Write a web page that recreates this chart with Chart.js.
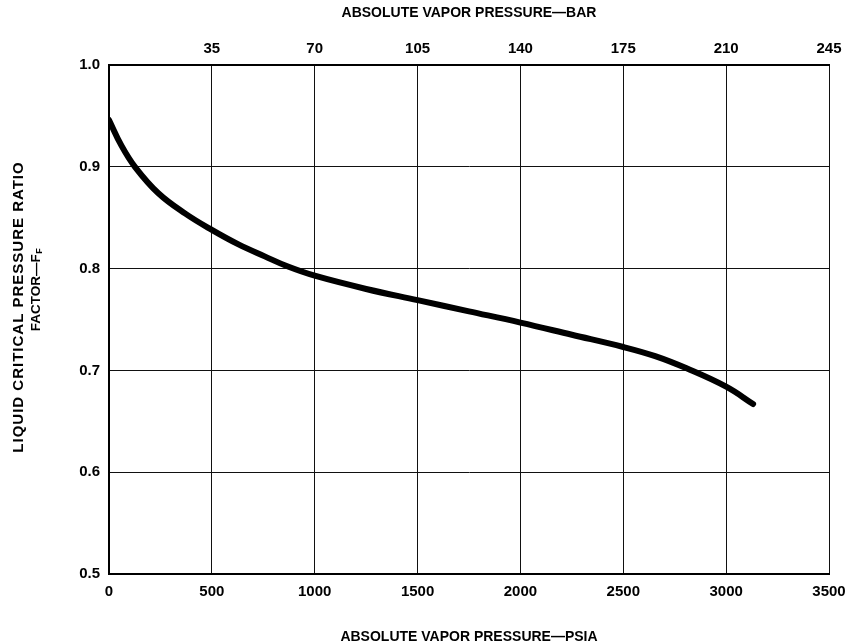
<!DOCTYPE html>
<html>
<head>
<meta charset="utf-8">
<script src="https://cdn.jsdelivr.net/npm/chart.js@4.4.1/dist/chart.umd.min.js"></script>
<style>
  html, body { margin: 0; padding: 0; background: #fff; }
  #wrap { width: 848px; height: 644px; }
</style>
</head>
<body>
<div id="wrap"><canvas id="chart"></canvas></div>
<script>
const psia = [0, 60, 126, 240, 371, 500, 627, 757, 870, 1000, 1250, 1500, 1750, 2000, 2250, 2500, 2655, 2808, 3000, 3131];
const factorFF = [0.946, 0.921, 0.900, 0.874, 0.854, 0.838, 0.824, 0.812, 0.802, 0.793, 0.780, 0.769, 0.758, 0.747, 0.735, 0.723, 0.714, 0.702, 0.684, 0.667];

const barTicks = [0, 35, 70, 105, 140, 175, 210, 245];
const psiaTicks = [0, 500, 1000, 1500, 2000, 2500, 3000, 3500];
const ratioTicks = [0.5, 0.6, 0.7, 0.8, 0.9, 1.0];

const FAM = "'Liberation Sans', Arial, sans-serif";
const tickFont = { family: FAM, size: 15, weight: "bold" };
const titleFont = { family: FAM, size: 14, weight: "bold" };

// y title has a subscript, so draw it by hand
const yTitle = {
  id: "yTitle",
  afterDraw(chart) {
    const ctx = chart.ctx;
    ctx.save();
    ctx.fillStyle = "#000";
    ctx.textBaseline = "middle";

    ctx.save();
    ctx.translate(19, 307);
    ctx.rotate(-Math.PI / 2);
    ctx.textAlign = "center";
    ctx.font = "bold 15px " + FAM;
    ctx.letterSpacing = "1px";
    ctx.fillText("LIQUID CRITICAL PRESSURE RATIO", 0, 0);
    ctx.letterSpacing = "0px";
    ctx.restore();

    ctx.save();
    ctx.translate(36, 290);
    ctx.rotate(-Math.PI / 2);
    const main = "FACTOR\u2014F";
    ctx.font = "bold 13.5px " + FAM;
    const w1 = ctx.measureText(main).width;
    ctx.font = "bold 9px " + FAM;
    const w2 = ctx.measureText("F").width;
    const x0 = -(w1 + w2) / 2;
    ctx.textAlign = "left";
    ctx.font = "bold 13.5px " + FAM;
    ctx.fillText(main, x0, 0);
    ctx.font = "bold 9px " + FAM;
    ctx.fillText("F", x0 + w1 + 0.5, 4);
    ctx.restore();

    ctx.restore();
  }
};

function fixPad(s) {
  s.paddingLeft = 0;
  s.paddingRight = 19;
}

new Chart(document.getElementById("chart"), {
  type: "line",
  data: {
    datasets: [
      {
        data: psia.map((p, i) => ({ x: p, y: factorFF[i] })),
        borderColor: "#000",
        borderWidth: 6,
        pointRadius: 0,
        tension: 0.4,
        borderCapStyle: "round",
        xAxisID: "x",
      },
    ],
  },
  options: {
    responsive: true,
    maintainAspectRatio: false,
    animation: false,
    layout: { padding: 0 },
    plugins: { legend: { display: false }, tooltip: { enabled: false } },
    scales: {
      x: {
        type: "linear",
        position: "bottom",
        min: 0,
        max: 3500,
        afterBuildTicks: (s) => { s.ticks = psiaTicks.map((v) => ({ value: v })); },
        afterFit: (s) => { s.height = 70; fixPad(s); },
        grid: { color: "#111", lineWidth: 1, drawTicks: false },
        border: { color: "#000", width: 2 },
        ticks: { color: "#000", font: tickFont, padding: 9, maxRotation: 0, callback: (v) => String(v) },
        title: {
          display: true,
          text: "ABSOLUTE VAPOR PRESSURE\u2014PSIA",
          color: "#000",
          font: titleFont,
          padding: { top: 0, bottom: -2 },
        },
      },
      x2: {
        type: "linear",
        position: "top",
        min: 0,
        max: 245,
        afterBuildTicks: (s) => { s.ticks = barTicks.map((v) => ({ value: v })); },
        afterFit: (s) => { s.height = 65; fixPad(s); },
        grid: { display: false, drawTicks: false },
        border: { color: "#000", width: 2 },
        ticks: {
          color: "#000",
          font: tickFont,
          padding: 7,
          maxRotation: 0,
          callback: (v) => (v === 0 ? "" : String(v)),
        },
        title: {
          display: true,
          text: "ABSOLUTE VAPOR PRESSURE\u2014BAR",
          color: "#000",
          font: titleFont,
          padding: { top: 5, bottom: 0 },
        },
      },
      y: {
        type: "linear",
        min: 0.5,
        max: 1.0,
        afterBuildTicks: (s) => { s.ticks = ratioTicks.map((v) => ({ value: v })); },
        afterFit: (s) => { s.width = 109; },
        grid: { color: "#111", lineWidth: 1, drawTicks: false },
        border: { color: "#000", width: 2 },
        ticks: {
          color: "#000",
          font: tickFont,
          padding: 9,
          callback: (v) => v.toFixed(1),
        },
      },
    },
  },
  plugins: [yTitle],
});
</script>
</body>
</html>
